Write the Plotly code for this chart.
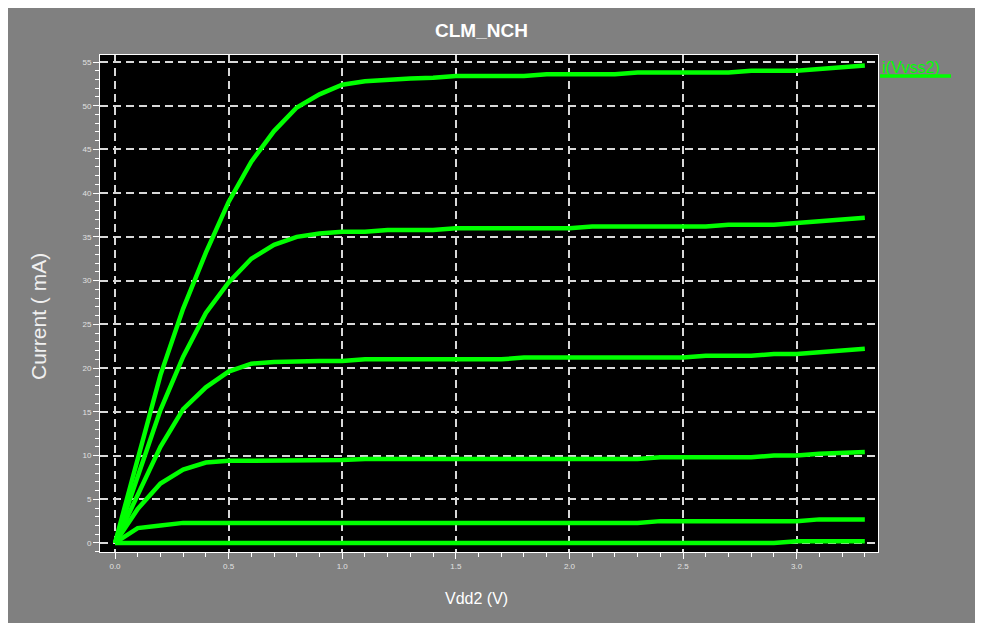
import plotly.graph_objects as go

vdd = [round(0.1 * i, 1) for i in range(34)]

i_vg1 = [0, 9.6, 19.2, 26.8, 33.2, 39.0, 43.6, 47.1, 49.8, 51.3, 52.4, 52.8, 53.0, 53.1, 53.2, 53.4, 53.4,
         53.4, 53.4, 53.6, 53.6, 53.6, 53.6, 53.8, 53.8, 53.8, 53.8, 53.8, 54.0, 54.0, 54.0, 54.2, 54.4, 54.6]
i_vg2 = [0, 7.8, 15.2, 21.3, 26.3, 29.8, 32.5, 34.1, 35.0, 35.4, 35.6, 35.6, 35.8, 35.8, 35.8, 36.0, 36.0,
         36.0, 36.0, 36.0, 36.0, 36.2, 36.2, 36.2, 36.2, 36.2, 36.2, 36.4, 36.4, 36.4, 36.6, 36.8, 37.0, 37.2]
i_vg3 = [0, 5.6, 11.0, 15.3, 17.8, 19.6, 20.5, 20.7, 20.8, 20.8, 20.8, 21.0, 21.0, 21.0, 21.0, 21.0, 21.0,
         21.0, 21.2, 21.2, 21.2, 21.2, 21.2, 21.2, 21.2, 21.2, 21.4, 21.4, 21.4, 21.6, 21.6, 21.8, 22.0, 22.2]
i_vg4 = [0, 3.9, 6.8, 8.4, 9.2, 9.4, 9.4, 9.4, 9.4, 9.4, 9.5, 9.6, 9.6, 9.6, 9.6, 9.6, 9.6,
         9.6, 9.6, 9.6, 9.6, 9.6, 9.6, 9.6, 9.8, 9.8, 9.8, 9.8, 9.8, 10.0, 10.0, 10.2, 10.3, 10.4]
i_vg5 = [0, 1.7, 2.0, 2.3, 2.3, 2.3, 2.3, 2.3, 2.3, 2.3, 2.3, 2.3, 2.3, 2.3, 2.3, 2.3, 2.3,
         2.3, 2.3, 2.3, 2.3, 2.3, 2.3, 2.3, 2.5, 2.5, 2.5, 2.5, 2.5, 2.5, 2.5, 2.7, 2.7, 2.7]
i_vg6 = [0, 0, 0, 0, 0, 0, 0, 0, 0, 0, 0, 0, 0, 0, 0, 0, 0,
         0, 0, 0, 0, 0, 0, 0, 0, 0, 0, 0, 0, 0, 0.2, 0.2, 0.2, 0.2]

series = [i_vg1, i_vg2, i_vg3, i_vg4, i_vg5, i_vg6]

x_ticks = [0.0, 0.5, 1.0, 1.5, 2.0, 2.5, 3.0]
x_ticktext = ["0.0", "0.5", "1.0", "1.5", "2.0", "2.5", "3.0"]
y_ticks = list(range(0, 56, 5))

title_text = "CLM_NCH"
x_title = "Vdd2 (V)"
y_title = "Current ( mA)"
legend_text = "i(Vvss2)"

GREEN = "#00ff00"
GRAY = "#808080"
NARROW = "Liberation Sans Narrow, Arial Narrow, Liberation Sans, Arial, sans-serif"

fig = go.Figure()
for s in series:
    fig.add_trace(go.Scatter(x=vdd, y=s, mode="lines",
                             line=dict(color=GREEN, width=4.5),
                             showlegend=False, hoverinfo="skip"))

# the page body adds an 8px offset; figure coordinates = screen px - OFF
OFF = 8
W, H = 970, 615
L, T = 100 - OFF, 55 - OFF
R = W - (878 - OFF)
B = H - (552 - OFF)
pw, ph = W - L - R, H - T - B


def px_x(p):
    return (p - OFF - L) / pw


def px_y(p):
    return (H - B - (p - OFF)) / ph


shapes = [
    dict(type="line", xref="paper", yref="paper", x0=px_x(880), x1=px_x(951), y0=px_y(76), y1=px_y(76),
         line=dict(color=GREEN, width=3.5), layer="above"),
]

annotations = [
    dict(text=legend_text, xref="paper", yref="paper", x=px_x(880), y=px_y(67), xanchor="left",
         yanchor="middle", showarrow=False, font=dict(family=NARROW, size=16, color=GREEN)),
    dict(text="<b>" + title_text + "</b>", xref="paper", yref="paper", x=px_x(481), y=px_y(31),
         xanchor="center", yanchor="middle", showarrow=False,
         font=dict(family=NARROW, size=19, color="white")),
    dict(text=x_title, xref="paper", yref="paper", x=px_x(476), y=px_y(598),
         xanchor="center", yanchor="middle", showarrow=False,
         font=dict(family=NARROW, size=16, color="white")),
    dict(text=y_title, xref="paper", yref="paper", x=px_x(38), y=px_y(317),
         xanchor="center", yanchor="middle", showarrow=False, textangle=-90,
         font=dict(family="Liberation Sans, Arial, sans-serif", size=21, color="#f0f0f0")),
]

axis_common = dict(
    showline=True, linecolor="white", linewidth=1, mirror=True,
    showgrid=True, gridcolor="#d8d8d8", gridwidth=1.5, griddash="8px,5px",
    zeroline=False, ticks="outside", tickcolor="white", ticklen=6, tickwidth=1,
    tickfont=dict(family=NARROW, size=8, color="#e0e0e0"),
)

fig.update_layout(
    width=W, height=H,
    margin=dict(l=L, r=R, t=T, b=B, pad=0),
    paper_bgcolor=GRAY, plot_bgcolor="black",
    showlegend=False,
    shapes=shapes, annotations=annotations,
    xaxis=dict(range=[-0.066, 3.358], tickvals=x_ticks, ticktext=x_ticktext,
               minor=dict(dtick=0.1, tick0=0, ticks="outside", ticklen=4, tickcolor="white", showgrid=False),
               **axis_common),
    yaxis=dict(range=[-1.03, 55.8], tickvals=y_ticks,
               minor=dict(dtick=1, tick0=0, ticks="outside", ticklen=4, tickcolor="white", showgrid=False),
               **axis_common),
)

fig.write_html("out.html", post_script="document.body.style.overflow='hidden';")
